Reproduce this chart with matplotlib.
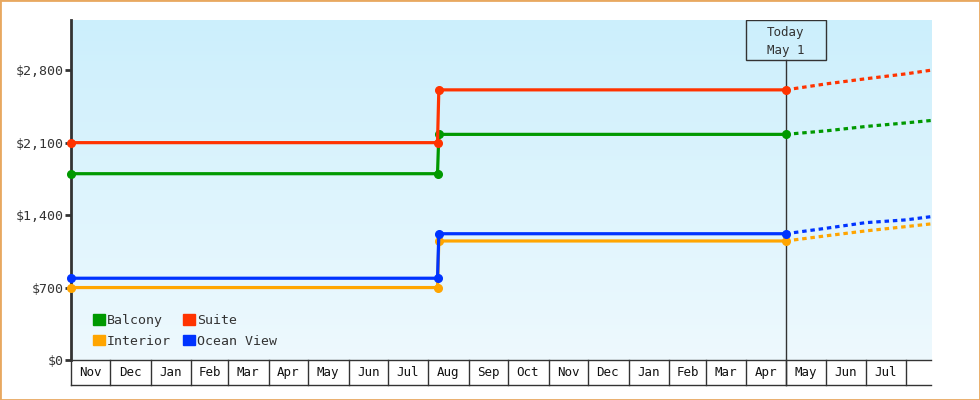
import datetime as dt
import numpy as np
import matplotlib
matplotlib.use('Agg')
import matplotlib.pyplot as plt
import matplotlib.dates as mdates
import matplotlib.transforms as mtransforms
from matplotlib.patches import Rectangle, Patch

# history: start, jump (two close points), today
hist_dates = [dt.date(2021, 11, 1), dt.date(2022, 8, 8), dt.date(2022, 8, 9), dt.date(2023, 5, 1)]
# forecast after today
fc_dates = [dt.date(2023, 5, 1), dt.date(2023, 6, 1), dt.date(2023, 7, 1),
            dt.date(2023, 8, 1), dt.date(2023, 8, 20)]

interior_hist = [700, 700, 1150, 1150]
interior_fc = [1150, 1200, 1247, 1289, 1315]
ocean_hist = [790, 790, 1220, 1220]
ocean_fc = [1220, 1273, 1327, 1354, 1385]
balcony_hist = [1800, 1800, 2180, 2180]
balcony_fc = [2180, 2214, 2256, 2291, 2314]
suite_hist = [2100, 2100, 2610, 2610]
suite_fc = [2610, 2668, 2717, 2765, 2800]

series_names = ['Interior', 'Ocean View', 'Balcony', 'Suite']
series_colors = ['#ffa500', '#0033ff', '#009900', '#ff3300']

y_ticks = [0, 700, 1400, 2100, 2800]
month_labels = ['Nov', 'Dec', 'Jan', 'Feb', 'Mar', 'Apr', 'May', 'Jun', 'Jul', 'Aug', 'Sep',
                'Oct', 'Nov', 'Dec', 'Jan', 'Feb', 'Mar', 'Apr', 'May', 'Jun', 'Jul']
today = dt.date(2023, 5, 1)
x_start, x_end = dt.date(2021, 11, 1), dt.date(2023, 8, 20)

plt.rcParams['font.family'] = ['DejaVu Sans Mono']
dark = '#333333'

fig = plt.figure(figsize=(9.8, 4), dpi=100)
ax = fig.add_axes([71 / 980, 40 / 400, 860 / 980, 340 / 400])
ax.set_xlim(x_start, x_end)
ax.set_ylim(0, 3285)

# gradient background
grad = np.linspace(0, 1, 256).reshape(-1, 1)
top = np.array([204, 239, 252]) / 255
bot = np.array([238, 249, 254]) / 255
img = top * (1 - grad[..., None]) + bot * grad[..., None]
img = np.repeat(img, 2, axis=1)
ax.imshow(img, extent=[0, 1, 0, 1], transform=ax.transAxes, aspect='auto', zorder=0)

hists = [interior_hist, ocean_hist, balcony_hist, suite_hist]
fcs = [interior_fc, ocean_fc, balcony_fc, suite_fc]
for name, col, h, f in zip(series_names, series_colors, hists, fcs):
    ax.plot(hist_dates, h, color=col, lw=2.3, marker='o', ms=5.5, zorder=3, clip_on=False)
    ax.plot(fc_dates, f, color=col, lw=2.3, ls=(0, (1.4, 1.2)), zorder=3)

# y axis
ax.set_yticks(y_ticks)
ax.set_yticklabels([f'${v:,.0f}' for v in y_ticks])
ax.tick_params(axis='y', length=4, width=2, color=dark, labelcolor=dark, labelsize=9.5, pad=1)
ax.set_xticks([])
for s in ['top', 'right']:
    ax.spines[s].set_visible(False)
ax.spines['left'].set_linewidth(2)
ax.spines['left'].set_color(dark)
ax.spines['bottom'].set_linewidth(1)
ax.spines['bottom'].set_color(dark)

# month cells below the axis
trans = mtransforms.blended_transform_factory(ax.transData, ax.transAxes)
cell_h = 25 / 340
bounds = [dt.date(2021 + (10 + i) // 12, (10 + i) % 12 + 1, 1) for i in range(len(month_labels) + 1)]
for b in bounds:
    ax.plot([b, b], [0, -cell_h], color=dark, lw=1, transform=trans, clip_on=False)
for i, lab in enumerate(month_labels):
    mid = bounds[i] + (bounds[i + 1] - bounds[i]) / 2
    ax.text(mid, -cell_h / 2, lab, transform=trans, ha='center', va='center',
            fontsize=9, color='#111111')
ax.plot([0, 1], [-cell_h, -cell_h], color=dark, lw=1, transform=ax.transAxes, clip_on=False)

# today marker
box_h = 40 / 340
ax.plot([today, today], [-cell_h, 1 - box_h], color=dark, lw=1, transform=trans,
        clip_on=False, zorder=2)
tx = (mdates.date2num(today) - mdates.date2num(x_start)) / (mdates.date2num(x_end) - mdates.date2num(x_start))
bw = 80 / 860
ax.add_patch(Rectangle((tx - bw / 2, 1 - box_h), bw, box_h, transform=ax.transAxes,
                       fill=False, edgecolor=dark, lw=1, zorder=4))
ax.text(tx, 1 - box_h / 2 - 0.004, 'Today\nMay 1', transform=ax.transAxes, ha='center',
        va='center', fontsize=9, color=dark, linespacing=1.45)

# legend
handles = [Patch(color=series_colors[2], label='Balcony'),
           Patch(color=series_colors[0], label='Interior'),
           Patch(color=series_colors[3], label='Suite'),
           Patch(color=series_colors[1], label='Ocean View')]
leg = ax.legend(handles=handles, ncol=2, loc='upper left', bbox_to_anchor=(0.018, 0.154),
                frameon=False, fontsize=9.5, handlelength=0.9, handleheight=0.9,
                handletextpad=0.15, columnspacing=0.9, labelspacing=0.55, borderpad=0)
for t in leg.get_texts():
    t.set_color(dark)

fig.add_artist(Rectangle((0, 0), 1, 1, transform=fig.transFigure, fill=False,
                         edgecolor='#e8a860', lw=2))

fig.savefig('out.png', dpi=100)
